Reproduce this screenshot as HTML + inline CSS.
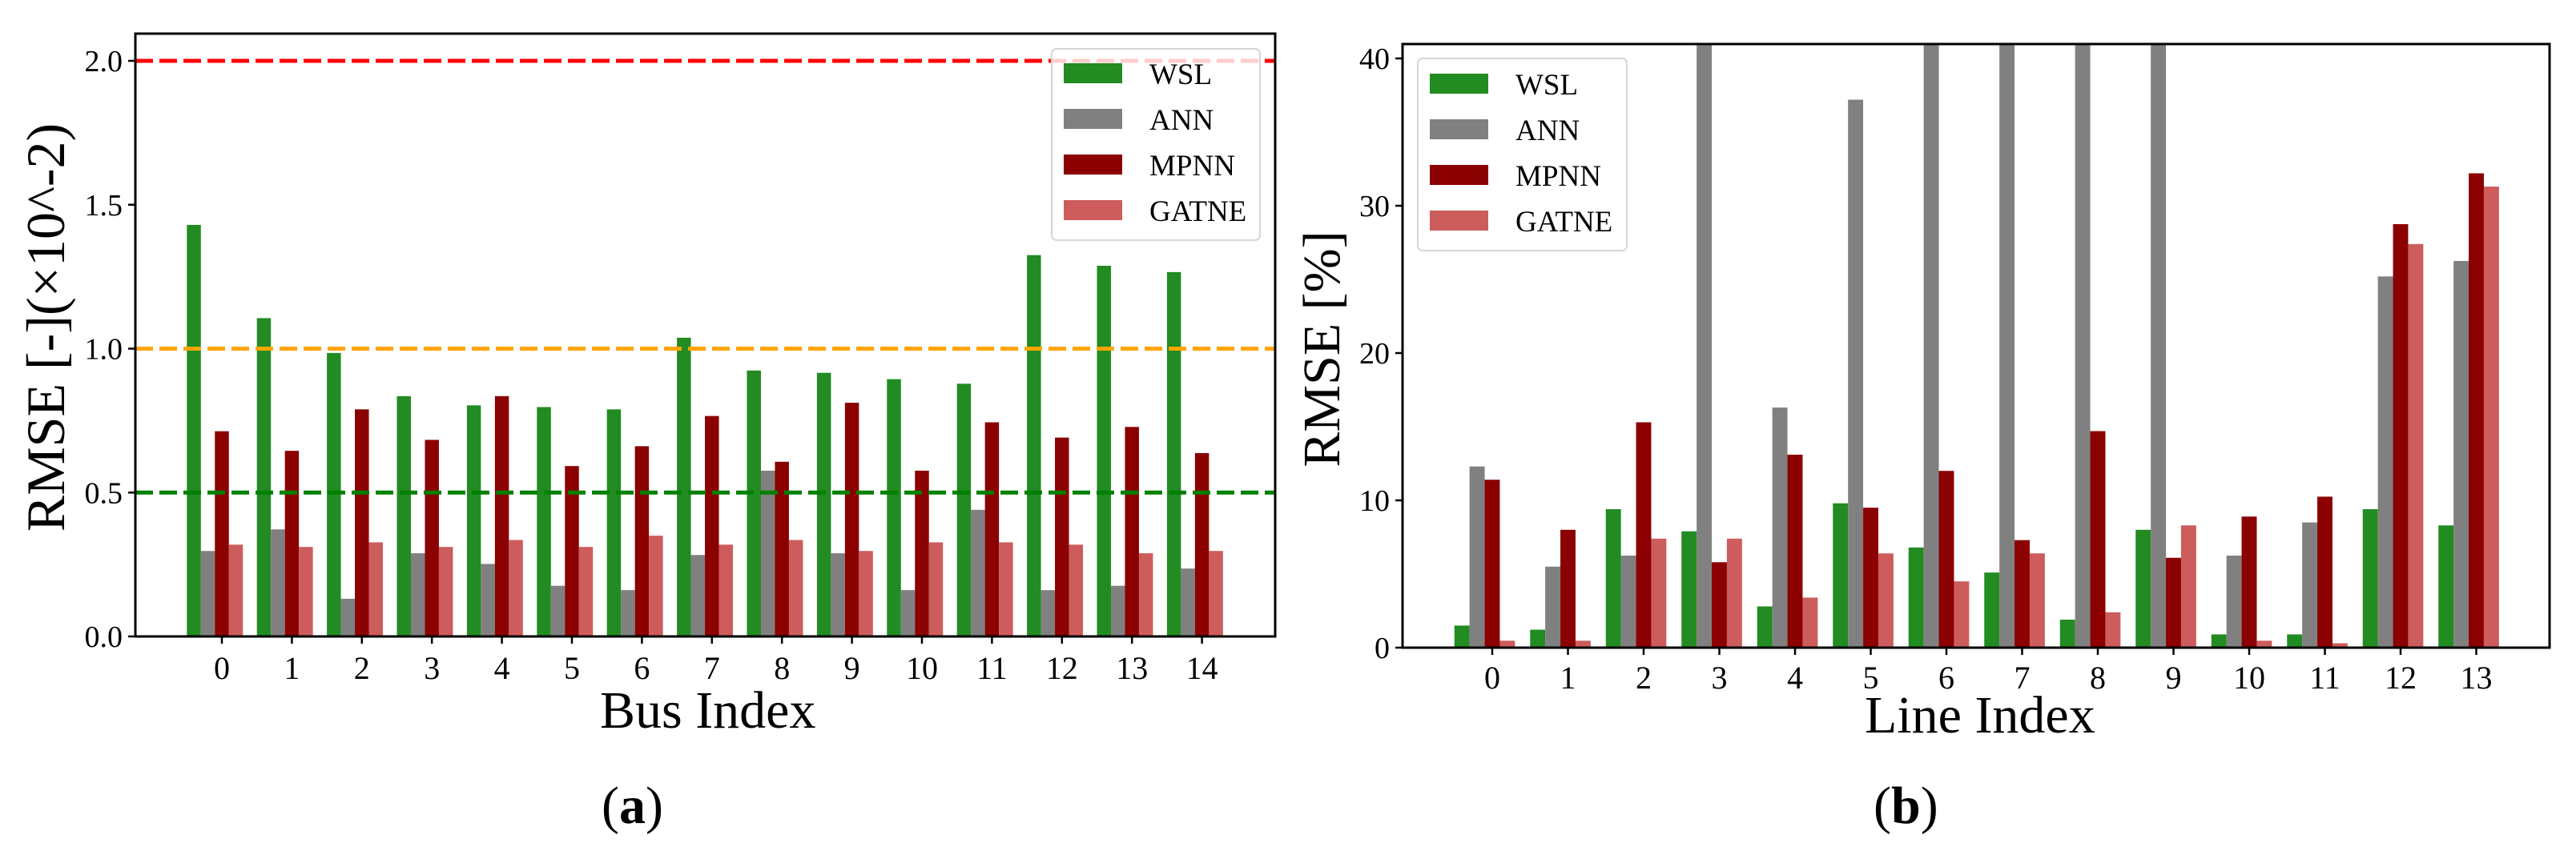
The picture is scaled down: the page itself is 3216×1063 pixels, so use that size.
<!DOCTYPE html>
<html><head><meta charset="utf-8"><style>
html,body{margin:0;padding:0;background:#fff;}
svg{display:block;font-family:"Liberation Serif",serif;}
</style></head><body>
<svg id="fig" width="3216" height="1063" viewBox="0 0 3216 1063" xmlns="http://www.w3.org/2000/svg">
<defs>
<clipPath id="clipA"><rect x="169" y="42" width="1423" height="753"/></clipPath>
<clipPath id="clipB"><rect x="1751" y="55" width="1432" height="754"/></clipPath>
</defs>
<g id="panelA"></g>
<g id="panelB"></g>
</svg>
<script>
const seriesNames = ["WSL","ANN","MPNN","GATNE"];
const seriesColors = ["#228B22","#808080","#8B0000","#CD5C5C"];
// Panel (a): bus RMSE (x10^-2)
const busCategories = ["0","1","2","3","4","5","6","7","8","9","10","11","12","13","14"];
const busWSL   = [1.43,1.106,0.985,0.835,0.803,0.797,0.789,1.038,0.924,0.916,0.894,0.878,1.325,1.288,1.266];
const busANN   = [0.297,0.372,0.131,0.289,0.252,0.176,0.161,0.283,0.576,0.289,0.161,0.44,0.161,0.176,0.236];
const busMPNN  = [0.713,0.645,0.789,0.683,0.835,0.592,0.661,0.766,0.607,0.812,0.576,0.744,0.691,0.728,0.637];
const busGATNE = [0.319,0.311,0.327,0.311,0.335,0.311,0.35,0.319,0.335,0.297,0.327,0.327,0.319,0.289,0.297];
const busYTicks = ["0.0","0.5","1.0","1.5","2.0"];
const busRefLines = [2.0,1.0,0.5];
const busRefColors = ["#FF0000","#FFA500","#008000"];
// Panel (b): line RMSE (%)
const lineCategories = ["0","1","2","3","4","5","6","7","8","9","10","11","12","13"];
const lineWSL   = [1.5,1.22,9.4,7.9,2.8,9.8,6.8,5.1,1.9,8.0,0.9,0.9,9.4,8.3];
const lineANN   = [12.3,5.5,6.25,50,16.3,37.2,50,50,50,50,6.25,8.5,25.2,26.25];
const lineMPNN  = [11.4,8.0,15.3,5.8,13.1,9.5,12.0,7.3,14.7,6.1,8.9,10.25,28.75,32.2];
const lineGATNE = [0.47,0.47,7.4,7.4,3.4,6.4,4.5,6.4,2.4,8.3,0.47,0.3,27.4,31.3];
const lineYTicks = ["0","10","20","30","40"];

const NS="http://www.w3.org/2000/svg";
function mk(parent,tag,attrs,text){const e=document.createElementNS(NS,tag);for(const k in attrs)e.setAttribute(k,attrs[k]);if(text!==undefined)e.textContent=text;parent.appendChild(e);return e;}

function drawPanel(g,cfg){
  const {x0,x1,y0,y1,tick0x,slot,yScale,series,cats,yTicks,clip,refs,refColors,legend,ytitle,ytitleX,ytitleY,ytitleSize,xtitle,xtitleX,xtitleY,tickBase,label,labelX} = cfg;
  const xs = i => tick0x + i*slot;
  const bw = slot*0.2;
  const bars = mk(g,'g',{'clip-path':'url(#'+clip+')'});
  
  
  series.forEach((vals,s)=>{
    vals.forEach((v,i)=>{
      const left = xs(i) + (s-2.5)*bw;
      const top = yScale(v);
      const r = mk(bars,'rect',{x:left,y:top,width:bw,height:y1-top,fill:seriesColors[s]});
      
      
    });
  });
  if(refs){
    refs.forEach((v,k)=>{
      const l = mk(g,'line',{x1:x0,x2:x1,y1:yScale(v),y2:yScale(v),stroke:refColors[k],'stroke-width':5,'stroke-dasharray':'22 8'});
      
      
    });
  }
  const fr = mk(g,'rect',{x:x0,y:y0,width:x1-x0,height:y1-y0,fill:'none',stroke:'#000','stroke-width':3});
  
  
  yTicks.forEach(t=>{
    const y=yScale(parseFloat(t));
    mk(g,'line',{x1:x0-9,x2:x0,y1:y,y2:y,stroke:'#000','stroke-width':2.5});
    const tl = mk(g,'text',{x:x0-16,y:y+13,'font-size':38,'text-anchor':'end',fill:'#000'},t);
    
    
  });
  cats.forEach((c,i)=>{
    const x=xs(i);
    mk(g,'line',{x1:x,x2:x,y1:y1,y2:y1+9,stroke:'#000','stroke-width':2.5});
    const tl = mk(g,'text',{x:x,y:tickBase,'font-size':40,'text-anchor':'middle',fill:'#000'},c);
    
    
  });
  const lg = mk(g,'g',{});
  
  
  mk(lg,'rect',{x:legend.x,y:legend.y,width:legend.w,height:legend.h,rx:6,fill:'rgba(255,255,255,0.8)',stroke:'#d6d6d6','stroke-width':2});
  seriesNames.forEach((n,s)=>{
    const py = legend.y+legend.py0+s*57;
    mk(lg,'rect',{x:legend.x+15,y:py,width:73,height:25,fill:seriesColors[s]});
    const t = mk(lg,'text',{x:legend.x+122,y:py+26,'font-size':37,fill:'#000'},n);
    
    
  });
  const yt = mk(g,'text',{x:ytitleX,y:ytitleY,'font-size':ytitleSize,'text-anchor':'middle',transform:'rotate(-90 '+ytitleX+' '+ytitleY+')',fill:'#000'},ytitle);
  
  
  const xt = mk(g,'text',{x:xtitleX,y:xtitleY,'font-size':66,fill:'#000'},xtitle);
  
  
  const lb = mk(g,'text',{x:labelX,y:1028,'font-size':66,fill:'#000'});
  
  
  mk(lb,'tspan',{},'(');
  mk(lb,'tspan',{'font-weight':'bold'},label);
  mk(lb,'tspan',{},')');
}

drawPanel(document.getElementById('panelA'),{
  x0:169,x1:1592,y0:42,y1:795,tick0x:277,slot:87.4,
  yScale:v=>795-v*359.5,
  series:[busWSL,busANN,busMPNN,busGATNE],cats:busCategories,yTicks:busYTicks,clip:'clipA',
  refs:busRefLines,refColors:busRefColors,
  legend:{x:1313,y:61,w:260,h:239,py0:18},
  ytitle:"RMSE [-](\u00d710^-2)",ytitleX:80,ytitleY:409,ytitleSize:68,
  xtitle:"Bus Index",xtitleX:749,xtitleY:909,tickBase:848,label:"a",labelX:751
});
drawPanel(document.getElementById('panelB'),{
  x0:1751,x1:3183,y0:55,y1:809,tick0x:1863,slot:94.5,
  yScale:v=>809-v*18.4,
  series:[lineWSL,lineANN,lineMPNN,lineGATNE],cats:lineCategories,yTicks:lineYTicks,clip:'clipB',
  refs:null,refColors:null,
  legend:{x:1770,y:73,w:261,h:240,py0:19},
  ytitle:"RMSE [%]",ytitleX:1672,ytitleY:436,ytitleSize:66,
  xtitle:"Line Index",xtitleX:2328,xtitleY:915,tickBase:860,label:"b",labelX:2339
});
</script>
</body></html>
